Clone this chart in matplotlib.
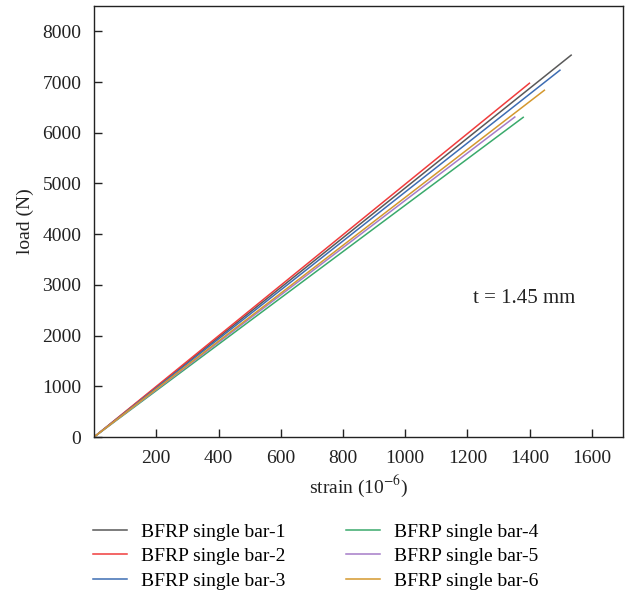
import matplotlib
matplotlib.use("Agg")
import matplotlib.pyplot as plt

plt.rcParams['font.family'] = ['Liberation Serif', 'DejaVu Serif']
plt.rcParams['mathtext.fontset'] = 'stix'

labels = ["BFRP single bar-1", "BFRP single bar-2", "BFRP single bar-3",
          "BFRP single bar-4", "BFRP single bar-5", "BFRP single bar-6"]
colors = ["#595959", "#f03c3c", "#3d6db3", "#3aaa6c", "#a57cc8", "#d4982e"]
strain_start = [0, 0, 0, 0, 0, 0]
load_start = [0, 0, 0, 0, 0, 0]
strain_end = [1533, 1399, 1497, 1379, 1352, 1447]
load_end = [7530, 6976, 7233, 6304, 6310, 6838]

xticks = [200, 400, 600, 800, 1000, 1200, 1400, 1600]
yticks = [0, 1000, 2000, 3000, 4000, 5000, 6000, 7000, 8000]

fig = plt.figure(figsize=(6.25, 5.95), dpi=100)
ax = fig.add_axes([0.1504, 0.2655, 0.8466, 0.7245])

for i in range(6):
    ax.plot([strain_start[i], strain_end[i]], [load_start[i], load_end[i]],
            color=colors[i], lw=1.1, label=labels[i])

ax.set_xlim(0, 1700)
ax.set_ylim(0, 8500)
ax.set_xticks(xticks)
ax.set_yticks(yticks)
ax.tick_params(direction='in', length=6, width=1, labelsize=14, colors='#222222', pad=9)
for s in ax.spines.values():
    s.set_linewidth(1.0)
    s.set_color('#222222')

ax.set_xlabel(r"strain (10$^{-6}$)", fontsize=14, color='#222222', labelpad=5)
ax.set_ylabel("load (N)", fontsize=14, color='#222222', labelpad=6)
ax.text(1218, 2730, "t = 1.45 mm", fontsize=15, color='#222222', va='center')

handles, lbls = ax.get_legend_handles_labels()
fig.legend(handles, lbls, loc='upper left', bbox_to_anchor=(0.149, 0.121),
           ncol=2, frameon=False, fontsize=14, handlelength=1.75,
           handletextpad=0.72, columnspacing=3.1, labelspacing=0.36,
           borderaxespad=0, borderpad=0)

fig.savefig("out.png", dpi=100)
